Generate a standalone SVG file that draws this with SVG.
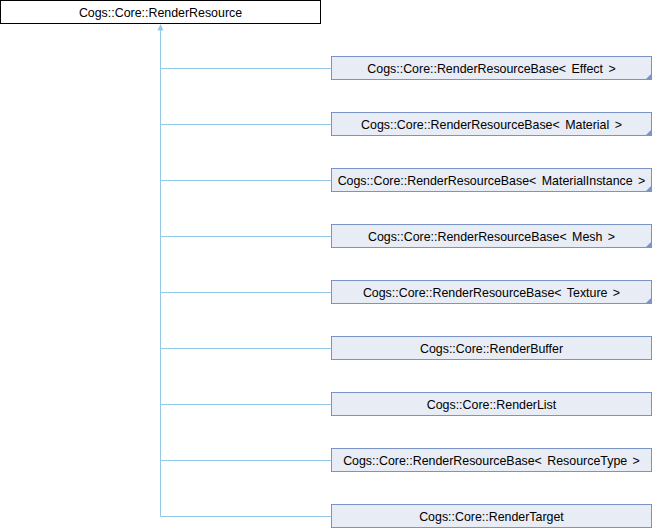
<svg xmlns="http://www.w3.org/2000/svg" width="652" height="528" viewBox="0 0 652 528">
<style>
.box{fill:#e8ecf4;stroke:#7b94c8;stroke-width:1}
.root{fill:#ffffff;stroke:#000000;stroke-width:1}
.lbl{font-family:"Liberation Sans",Arial,sans-serif;font-size:12.4px;fill:#000000;text-anchor:middle;word-spacing:2px}
.edge{fill:none;stroke:#94c8e8;stroke-width:1}
.corner{fill:#7b94c8}
</style>
<rect width="652" height="528" fill="#ffffff"/>
<g id="connectors">
<path class="edge" d="M160.5,29 V516.5"/>
<polygon points="160.5,24 157.5,30.5 163.5,30.5" fill="#94c8e8"/>
<path class="edge" d="M160.5,68.5 H331"/>
<path class="edge" d="M160.5,124.5 H331"/>
<path class="edge" d="M160.5,180.5 H331"/>
<path class="edge" d="M160.5,236.5 H331"/>
<path class="edge" d="M160.5,292.5 H331"/>
<path class="edge" d="M160.5,348.5 H331"/>
<path class="edge" d="M160.5,404.5 H331"/>
<path class="edge" d="M160.5,460.5 H331"/>
<path class="edge" d="M160.5,516.5 H331"/>
</g>
<g id="RenderResource">
<rect class="root" x="0.5" y="0.5" width="320" height="23"/>
<text class="lbl" x="160.5" y="16.5">Cogs::Core::RenderResource</text>
</g>
<g id="RRB_Effect">
<rect class="box" x="331.5" y="56.5" width="320" height="23"/>
<polygon class="corner" points="652,73 652,80 645,80"/>
<text class="lbl" x="491.5" y="72.5">Cogs::Core::RenderResourceBase&lt; Effect &gt;</text>
</g>
<g id="RRB_Material">
<rect class="box" x="331.5" y="112.5" width="320" height="23"/>
<polygon class="corner" points="652,129 652,136 645,136"/>
<text class="lbl" x="491.5" y="128.5">Cogs::Core::RenderResourceBase&lt; Material &gt;</text>
</g>
<g id="RRB_MaterialInstance">
<rect class="box" x="331.5" y="168.5" width="320" height="23"/>
<polygon class="corner" points="652,185 652,192 645,192"/>
<text class="lbl" x="491.5" y="184.5">Cogs::Core::RenderResourceBase&lt; MaterialInstance &gt;</text>
</g>
<g id="RRB_Mesh">
<rect class="box" x="331.5" y="224.5" width="320" height="23"/>
<polygon class="corner" points="652,241 652,248 645,248"/>
<text class="lbl" x="491.5" y="240.5">Cogs::Core::RenderResourceBase&lt; Mesh &gt;</text>
</g>
<g id="RRB_Texture">
<rect class="box" x="331.5" y="280.5" width="320" height="23"/>
<polygon class="corner" points="652,297 652,304 645,304"/>
<text class="lbl" x="491.5" y="296.5">Cogs::Core::RenderResourceBase&lt; Texture &gt;</text>
</g>
<g id="RenderBuffer">
<rect class="box" x="331.5" y="336.5" width="320" height="23"/>
<text class="lbl" x="491.5" y="352.5">Cogs::Core::RenderBuffer</text>
</g>
<g id="RenderList">
<rect class="box" x="331.5" y="392.5" width="320" height="23"/>
<text class="lbl" x="491.5" y="408.5">Cogs::Core::RenderList</text>
</g>
<g id="RRB_ResourceType">
<rect class="box" x="331.5" y="448.5" width="320" height="23"/>
<text class="lbl" x="491.5" y="464.5">Cogs::Core::RenderResourceBase&lt; ResourceType &gt;</text>
</g>
<g id="RenderTarget">
<rect class="box" x="331.5" y="504.5" width="320" height="23"/>
<text class="lbl" x="491.5" y="520.5">Cogs::Core::RenderTarget</text>
</g>
</svg>
